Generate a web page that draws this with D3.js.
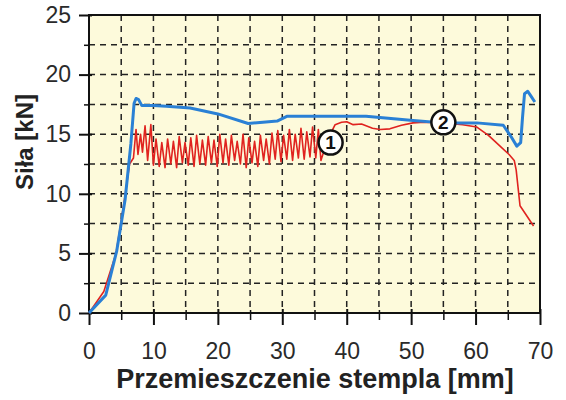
<!DOCTYPE html>
<html>
<head>
<meta charset="utf-8">
<script src="https://cdn.jsdelivr.net/npm/d3@7"></script>
<style>
  body { margin: 0; background: #fff; }
  svg text { font-family: "Liberation Sans", Arial, sans-serif; }
</style>
</head>
<body>
<div id="chart"></div>
<script>
// Curve 2 (blue) – displacement [mm] / force [kN]
const blueX = [0, 2.6, 4.3, 5.6, 6.5, 7.0, 7.3, 7.7, 8.2, 10, 12, 15.7, 20, 24.7, 27, 29.2, 30.7, 35, 43, 50.3, 55, 60.2, 64.3, 65.5, 66.4, 67.0, 67.3, 67.6, 68.1, 68.6, 69.2]
const blueY = [0, 1.5, 5.2, 9.5, 14.2, 17.6, 18.0, 17.9, 17.4, 17.4, 17.35, 17.2, 16.7, 15.9, 16.0, 16.1, 16.5, 16.5, 16.5, 16.15, 15.95, 15.95, 15.75, 14.8, 14.0, 14.3, 16.5, 18.4, 18.6, 18.2, 17.7]

// Curve 1 (red)
const redX = [0, 2.3, 4.2, 5.5, 6.3, 6.9,
  7.3, 7.6, 8.0, 8.3, 8.7, 9.1, 9.6, 10.0, 10.4, 10.9, 11.3, 11.8, 12.2, 12.7, 13.1, 13.6, 14.0, 14.5, 14.9, 15.4,
  15.8, 16.3, 16.7, 17.2, 17.6, 18.1, 18.5, 19.0, 19.4, 19.9, 20.3, 20.8, 21.2, 21.7, 22.1, 22.6, 23.0, 23.5,
  23.9, 24.4, 24.8, 25.3, 25.7, 26.2, 26.6, 27.1, 27.5, 28.0, 28.4, 28.9, 29.3, 29.8, 30.2, 30.7, 31.1, 31.6,
  32.0, 32.5, 32.9, 33.4, 33.8, 34.3, 34.7, 35.2, 35.6, 36.0,
  37.0, 38.2, 39.2, 40.0, 41.0, 42.3, 44.0, 45.2, 46.7, 48.5, 50.3, 52, 55, 58, 60.2, 62, 63.8, 65.2, 66.0, 66.3, 66.9, 69.0]
const redY = [0, 1.8, 5.0, 9.5, 12.5, 13.0,
  15.4, 13.3, 15.0, 13.5, 15.7, 12.8, 15.8, 12.4, 14.6, 12.3, 14.3, 12.2, 14.6, 12.5, 14.4, 12.2, 14.8, 12.6, 14.3, 12.4,
  14.7, 12.3, 14.9, 12.5, 14.5, 12.4, 14.8, 12.6, 14.5, 12.3, 15.0, 12.6, 14.6, 12.4, 14.9, 12.8, 14.4, 12.5,
  15.0, 12.2, 14.7, 12.6, 14.4, 12.3, 14.9, 12.8, 14.6, 12.5, 15.1, 12.9, 15.3, 12.7, 14.9, 12.9, 15.4, 12.8,
  15.0, 13.0, 15.5, 12.9, 15.2, 13.1, 15.6, 13.0, 15.4, 12.8,
  14.5, 15.8, 16.0, 16.05, 15.8, 15.85, 15.5, 15.4, 15.45, 15.75, 15.95, 16.0, 15.95, 15.8, 15.6, 14.9, 14.0, 13.3, 12.8, 12.0, 9.0, 7.3]

const xTicks = [0, 10, 20, 30, 40, 50, 60, 70]
const yTicks = [0, 5, 10, 15, 20, 25]
const labels = [{ text: "1", x: 37.5, y: 14.3 }, { text: "2", x: 55.0, y: 16.0 }]

const width = 566, height = 400
const margin = { top: 15, right: 26, bottom: 87, left: 89 }
const w = width - margin.left - margin.right
const h = height - margin.top - margin.bottom

const svg = d3.select("#chart").append("svg")
  .attr("width", width)
  .attr("height", height)

const g = svg.append("g")
  .attr("transform", `translate(${margin.left},${margin.top})`)

const x = d3.scaleLinear().domain([0, 70]).range([0, w])
const y = d3.scaleLinear().domain([0, 25]).range([h, 0])

// Plot background
g.append("rect")
  .attr("width", w)
  .attr("height", h)
  .style("fill", "#fdfadb")

// Dashed grid
const gridX = d3.range(5, 70, 5)
const gridY = d3.range(2.5, 25, 2.5)
g.append("g").selectAll("line")
  .data(gridX).enter().append("line")
  .attr("x1", d => x(d)).attr("x2", d => x(d))
  .attr("y1", 0).attr("y2", h)
  .style("stroke", "#222").style("stroke-width", 1.5).style("stroke-dasharray", "6,5")
g.append("g").selectAll("line")
  .data(gridY).enter().append("line")
  .attr("x1", 0).attr("x2", w)
  .attr("y1", d => y(d)).attr("y2", d => y(d))
  .style("stroke", "#222").style("stroke-width", 1.5).style("stroke-dasharray", "6,5")

// Frame
g.append("rect")
  .attr("width", w)
  .attr("height", h)
  .style("fill", "none")
  .style("stroke", "#111")
  .style("stroke-width", 2)

// X axis
const xAxis = g.append("g")
  .attr("transform", `translate(0,${h})`)
  .call(d3.axisBottom(x).tickValues(xTicks).tickSize(12).tickPadding(18))
xAxis.select(".domain").remove()
xAxis.selectAll(".tick line").attr("y1", -4).style("stroke", "#111").style("stroke-width", 2)
xAxis.selectAll("text").style("font-size", "23px").style("fill", "#2a2a2a")

const xMinor = g.append("g")
  .attr("transform", `translate(0,${h})`)
  .call(d3.axisBottom(x).tickValues(d3.range(5, 70, 10)).tickSize(7).tickFormat(""))
xMinor.select(".domain").remove()
xMinor.selectAll(".tick line").attr("y1", -3).style("stroke", "#111").style("stroke-width", 1.5)

// Y axis
const yAxis = g.append("g")
  .call(d3.axisLeft(y).tickValues(yTicks).tickSize(10).tickPadding(8))
yAxis.select(".domain").remove()
yAxis.selectAll(".tick line").attr("x1", 3).style("stroke", "#111").style("stroke-width", 2)
yAxis.selectAll("text").style("font-size", "23px").style("fill", "#2a2a2a")

const yMinor = g.append("g")
  .call(d3.axisLeft(y).tickValues(d3.range(2.5, 25, 5)).tickSize(5).tickFormat(""))
yMinor.select(".domain").remove()
yMinor.selectAll(".tick line").style("stroke", "#111").style("stroke-width", 1.5)

// Curves
const line = d3.line().x(d => x(d[0])).y(d => y(d[1]))

g.append("path")
  .datum(d3.zip(redX, redY))
  .attr("d", line)
  .style("fill", "none")
  .style("stroke", "#e0231f")
  .style("stroke-width", 1.6)
  .style("stroke-linejoin", "round")

g.append("path")
  .datum(d3.zip(blueX, blueY))
  .attr("d", line)
  .style("fill", "none")
  .style("stroke", "#2a80d5")
  .style("stroke-width", 3)
  .style("stroke-linejoin", "round")

// Circled curve numbers
const marks = g.selectAll(".mark")
  .data(labels).enter().append("g")
  .attr("class", "mark")
  .attr("transform", d => `translate(${x(d.x)},${y(d.y)})`)
marks.append("circle")
  .attr("r", 12)
  .style("fill", "#fff")
  .style("stroke", "#111")
  .style("stroke-width", 2.5)
marks.append("text")
  .attr("text-anchor", "middle")
  .attr("dy", "0.36em")
  .style("font-size", "19px")
  .style("font-weight", "bold")
  .style("fill", "#111")
  .text(d => d.text)

// Axis titles
svg.append("text")
  .attr("x", 315)
  .attr("y", 388)
  .attr("text-anchor", "middle")
  .style("font-size", "27px")
  .style("font-weight", "bold")
  .style("fill", "#222")
  .text("Przemieszczenie stempla [mm]")

svg.append("text")
  .attr("transform", "translate(33,142) rotate(-90)")
  .attr("text-anchor", "middle")
  .style("font-size", "24px")
  .style("font-weight", "bold")
  .style("fill", "#222")
  .text("Siła [kN]")
</script>
</body>
</html>
